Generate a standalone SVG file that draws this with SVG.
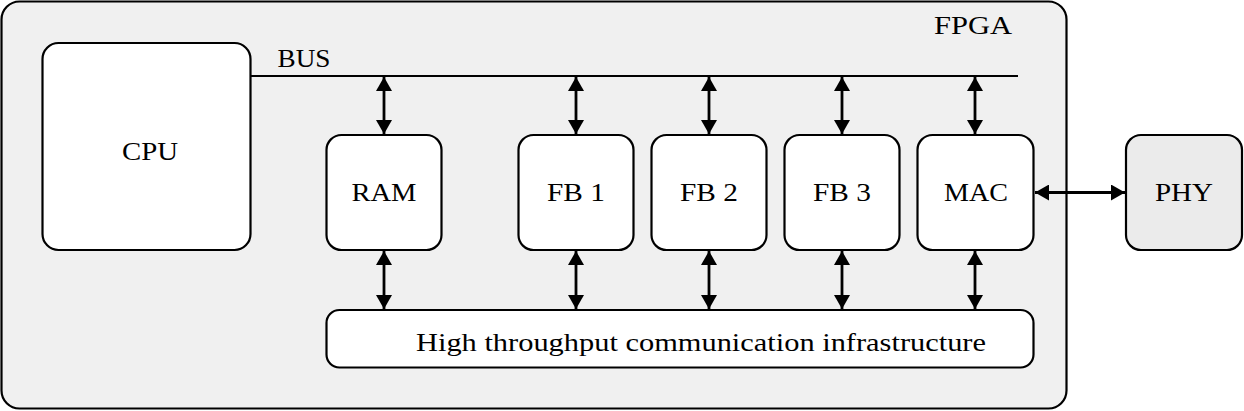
<svg xmlns="http://www.w3.org/2000/svg" width="1244" height="411" viewBox="0 0 1244 411">
<style>
.box{fill:#ffffff;stroke:#000;stroke-width:2.2}
text{font-family:'Liberation Serif','Times New Roman',serif;font-size:26px;fill:#000;text-anchor:middle}
.conn{stroke:#000;stroke-width:2.8;fill:none;marker-start:url(#ah);marker-end:url(#ah)}
</style>
<defs>
<marker id="ah" viewBox="0 0 14 16" refX="14" refY="8" markerWidth="14" markerHeight="16" markerUnits="userSpaceOnUse" orient="auto-start-reverse">
<path d="M0,0 L14,8 L0,16 z" fill="#000"/>
</marker>
</defs>
<g id="fpga">
<rect x="1.5" y="1.5" width="1065" height="407" rx="18" ry="18" fill="#f0f0f0" stroke="#000" stroke-width="2.2"/>
<text x="973" y="34" font-family="Liberation Serif, serif" textLength="78" lengthAdjust="spacingAndGlyphs">FPGA</text>
</g>
<g id="cpu">
<rect class="box" x="42.5" y="43" width="208" height="207" rx="16" ry="16"/>
<text x="150" y="160" font-family="Liberation Serif, serif" textLength="56" lengthAdjust="spacingAndGlyphs">CPU</text>
</g>
<g id="bus">
<line x1="251" y1="76" x2="1018" y2="76" stroke="#000" stroke-width="2.2"/>
<text x="304" y="67" font-family="Liberation Serif, serif" textLength="53" lengthAdjust="spacingAndGlyphs">BUS</text>
</g>
<g id="ram">
<rect class="box" x="326.5" y="135" width="115" height="115" rx="15" ry="15"/>
<text x="384" y="201" font-family="Liberation Serif, serif" textLength="65" lengthAdjust="spacingAndGlyphs">RAM</text>
</g>
<g id="fb1">
<rect class="box" x="518.5" y="135" width="115" height="115" rx="15" ry="15"/>
<text x="576" y="201" font-family="Liberation Serif, serif" textLength="58" lengthAdjust="spacingAndGlyphs">FB 1</text>
</g>
<g id="fb2">
<rect class="box" x="651.5" y="135" width="115" height="115" rx="15" ry="15"/>
<text x="709" y="201" font-family="Liberation Serif, serif" textLength="58" lengthAdjust="spacingAndGlyphs">FB 2</text>
</g>
<g id="fb3">
<rect class="box" x="784.5" y="135" width="115" height="115" rx="15" ry="15"/>
<text x="842" y="201" font-family="Liberation Serif, serif" textLength="58" lengthAdjust="spacingAndGlyphs">FB 3</text>
</g>
<g id="mac">
<rect class="box" x="917.5" y="135" width="116" height="115" rx="15" ry="15"/>
<text x="976" y="201" font-family="Liberation Serif, serif" textLength="64" lengthAdjust="spacingAndGlyphs">MAC</text>
</g>
<g id="phy">
<rect x="1126" y="135" width="116" height="115" rx="15" ry="15" fill="#ebebeb" stroke="#000" stroke-width="2.2"/>
<text x="1184" y="201" font-family="Liberation Serif, serif" textLength="58" lengthAdjust="spacingAndGlyphs">PHY</text>
</g>
<g id="hti">
<rect class="box" x="326.5" y="310" width="707" height="57.5" rx="13" ry="13"/>
<text x="701" y="351" font-family="Liberation Serif, serif" textLength="570" lengthAdjust="spacingAndGlyphs">High throughput communication infrastructure</text>
</g>
<g id="connectors">
<line class="conn" x1="384" y1="77" x2="384" y2="134"/>
<line class="conn" x1="576" y1="77" x2="576" y2="134"/>
<line class="conn" x1="709" y1="77" x2="709" y2="134"/>
<line class="conn" x1="842" y1="77" x2="842" y2="134"/>
<line class="conn" x1="975" y1="77" x2="975" y2="134"/>
<line class="conn" x1="384" y1="251" x2="384" y2="309"/>
<line class="conn" x1="576" y1="251" x2="576" y2="309"/>
<line class="conn" x1="709" y1="251" x2="709" y2="309"/>
<line class="conn" x1="842" y1="251" x2="842" y2="309"/>
<line class="conn" x1="975" y1="251" x2="975" y2="309"/>
<line class="conn" x1="1035" y1="192.5" x2="1125" y2="192.5"/>
</g>
</svg>
